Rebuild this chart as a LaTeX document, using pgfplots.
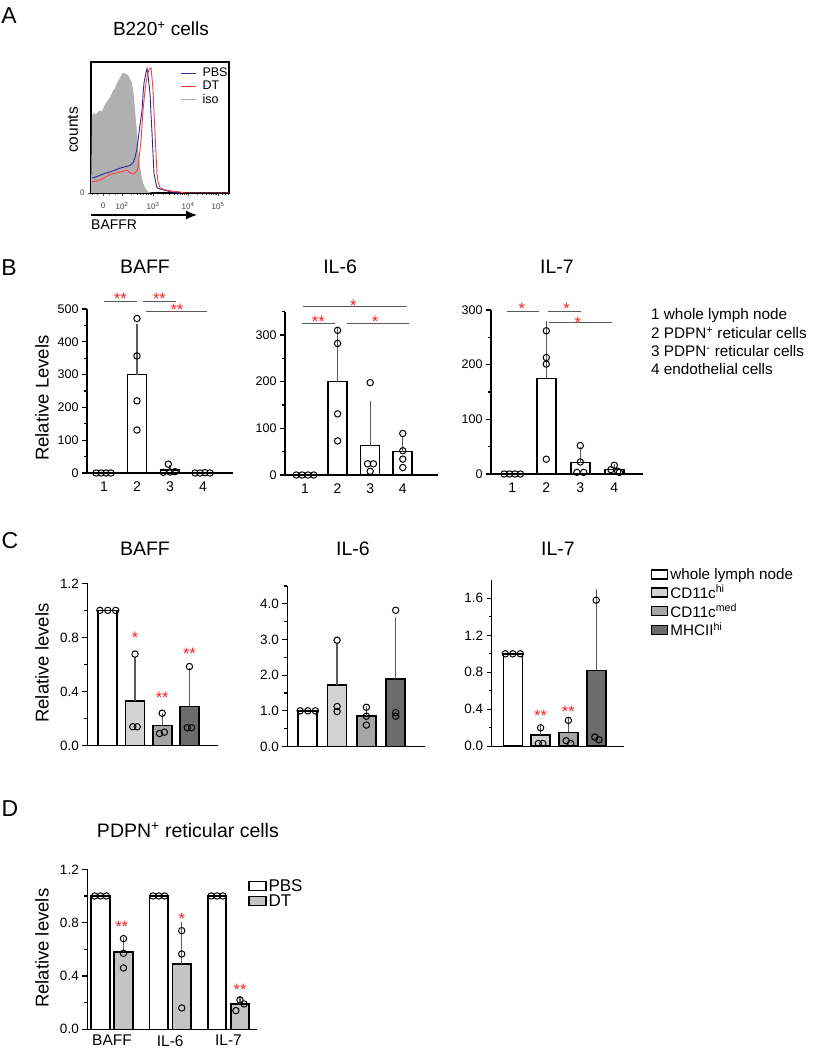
\documentclass[border=0pt]{standalone}
\usepackage{pgfplots}
\pgfplotsset{compat=1.18}
\usepackage{fontspec}
\setmainfont{Liberation Sans}
\usetikzlibrary{arrows.meta}
\newcommand{\fsz}[2]{\fontsize{#1}{#2}\selectfont}
\definecolor{cdhi}{HTML}{D2D2D2}
\definecolor{cdmed}{HTML}{A5A5A5}
\definecolor{mhc}{HTML}{6B6B6B}
\definecolor{dtgray}{HTML}{C4C4C4}
\definecolor{pbsblue}{HTML}{2B2B9E}
\definecolor{dtred}{HTML}{FF3B3B}
\definecolor{isogray}{HTML}{B0B0B0}
\definecolor{errgray}{HTML}{5A5A5A}
\definecolor{sigred}{HTML}{FF2020}
\pgfplotsset{
 barax/.style={
  scale only axis, anchor=south west, clip=false,
  axis lines*=left, axis line style={line width=1.5pt},
  ymin=0, tick align=outside,
  major tick length=5pt, minor tick length=3pt,
  tick style={line width=1.2pt, black},
  xtick style={draw=none},
  ytick pos=left, xtick pos=bottom,
  /pgf/number format/assume math mode=true,
  yticklabel style={font=\fsz{12.5}{14}},
  xticklabel style={font=\fsz{14}{16}},
  ylabel style={font=\fsz{18.5}{21}, anchor=center},
  title style={font=\fsz{19.5}{22}, anchor=center},
 },
 decax/.style={
  yticklabel style={font=\fsz{13.5}{15}, /pgf/number format/.cd, fixed, fixed zerofill, precision=1},
 },
 bne/.style={ybar, bar width=19pt, bar shift=0pt, draw=black, line width=1.6pt, fill=#1},
 be/.style={ybar, bar width=19pt, bar shift=0pt, draw=black, line width=1.6pt, fill=#1,
   error bars/y dir=plus, error bars/y explicit,
   error bars/error bar style={line width=1.2pt, errgray},
   error bars/error mark options={line width=1.2pt, errgray, mark size=3pt}},
 pts/.style={only marks, mark=o, mark size=3.2pt, mark options={line width=1pt, black}, forget plot},
}
\tikzset{star/.style={text=sigred, font=\fsz{16.5}{16}, anchor=base, yshift=-9pt, inner sep=0pt},
 sig/.style={line width=0.9pt, errgray}}
\begin{document}
\begin{tikzpicture}
\path[use as bounding box] (0,0) rectangle (812pt,1050pt);
% panel letters
\node[font=\fsz{23}{26}] at (9pt,1034pt) {A};
\node[font=\fsz{23}{26}] at (9pt,782pt) {B};
\node[font=\fsz{23}{26}] at (10pt,509pt) {C};
\node[font=\fsz{23}{26}] at (10pt,241pt) {D};

% ---------------- Panel A ----------------
\begin{axis}[scale only axis, anchor=south west, at={(91pt,857pt)}, width=138pt, height=131pt,
  xmin=91, xmax=229, ymin=0, ymax=100, axis line style={line width=1.2pt},
  xtick={103,122,153,188,218}, xticklabels={0,10\textsuperscript{2},10\textsuperscript{3},10\textsuperscript{4},10\textsuperscript{5}},
  minor xtick={92,97,109,115,131.3,136.8,140.7,143.7,146.1,148.2,150,151.6,163.5,169.7,174.1,177.5,180.2,182.6,184.6,186.4,197,202.3,206,209,211.3,213.4,215.1,216.6,222,225,228},
  ytick={0}, yticklabels={0},
  tick align=outside, major tick length=3pt, minor tick length=2pt, xtick pos=bottom, ytick pos=left,
  tick style={line width=0.6pt, black!70},
  tick label style={font=\fsz{8}{9}, text=black!75},
  xticklabel style={yshift=-3pt},
  title={B220\textsuperscript{+} cells}, title style={font=\fsz{19}{22}, at={(axis description cs:0.507,1.206)}, anchor=center},
  ylabel={counts}, ylabel style={font=\fsz{15.5}{18}, at={(axis description cs:-0.13,0.481)}, anchor=center},
  legend style={at={(axis description cs:0.645,0.97)}, anchor=north west, draw=none, fill=none, font=\fsz{12.5}{13}, inner sep=0pt, row sep=-1pt, column sep=4pt, cells={anchor=west}},
  ]
\addplot[fill=isogray, draw=none, forget plot] coordinates {(91,0)(92,58)(93,61)(96,60)(98,62)(100,63)(102,62)(104,66)(107,70)(110,73)(113,78)(115,80)(117,84)(120,88)(123,92)(125,91)(128,90)(130,87)(132,84)(134,73)(135,63)(137,46)(138,35)(140,20)(142,11)(143,8)(145,4)(148,1)(152,0)} \closedcycle;
\addplot[pbsblue, line width=0.9pt, forget plot] coordinates {(92,11.5)(95,12)(100,13.5)(105,15)(110,16)(115,17.5)(120,19)(125,20)(130,21)(133,23)(135,27)(137,34)(138,40)(140,52)(142,63)(143,75)(144,84)(145,88)(146,92)(147,95)(148,90)(149,83)(150,76)(151,60)(152,46)(153,30)(154,15)(156,7)(157,4)(160,3)(165,2)(170,1)(175,0.5)(180,0)(229,0)};
\addplot[dtred, line width=0.9pt, forget plot] coordinates {(92,8.5)(96,9)(100,10)(105,12)(110,14)(115,15)(120,16)(125,17)(127,17.5)(129,16)(131,15)(133,14.5)(135,15.5)(137,17)(138,19)(139,26)(140,33)(141,40)(142,52)(143,63)(145,78)(146,84)(147,88)(148,92)(149,94)(150,95)(151,95.5)(152,88)(153,79)(154,62)(155,46)(156,30)(157,15)(158,9)(160,4)(163,3)(167,2)(172,1.5)(178,1)(185,0)(229,0)};
\addlegendimage{legend image code/.code={\draw[pbsblue, line width=1.3pt] (0pt,0pt) -- (15pt,0pt);}}\addlegendentry{PBS}
\addlegendimage{legend image code/.code={\draw[dtred, line width=1.3pt] (0pt,0pt) -- (15pt,0pt);}}\addlegendentry{DT}
\addlegendimage{legend image code/.code={\draw[isogray, line width=1.3pt] (0pt,0pt) -- (15pt,0pt);}}\addlegendentry{iso}
\end{axis}
\draw[line width=1.2pt, -{Latex[length=11pt,width=9pt]}] (91pt,835pt) -- (197pt,835pt);
\node[anchor=west, font=\fsz{14}{16}, inner sep=0pt] at (91pt,825pt) {BAFFR};

% ---------------- Panel B ----------------
\begin{axis}[barax, at={(87pt,577pt)}, width=146pt, height=164pt,
  xmin=0.485, xmax=4.909, ymax=500,
  ytick={0,100,...,500}, minor ytick={50,150,...,450}, xtick={1,2,3,4},
  ylabel={Relative Levels}, ylabel style={at={(axis description cs:-0.308,0.457)}},
  title={BAFF}, title style={at={(axis description cs:0.397,1.22)}}]
\addplot[bne=white] coordinates {(1,1)};
\addplot[be=white] coordinates {(2,300) +- (0,146)};
\addplot[be=white] coordinates {(3,9) +- (0,6)};
\addplot[bne=white] coordinates {(4,1)};
\addplot[pts] coordinates {(0.76,0)(0.91,0)(1.06,0)(1.21,0)(2,471)(2,357)(2,220)(2,131)(2.95,27)(2.8,2)(3,3)(3.15,4)(3.76,0)(3.91,0)(4.06,1)(4.21,0)};
\draw[sig] (axis cs:1,524) -- (axis cs:2,524);
\draw[sig] (axis cs:2.18,524) -- (axis cs:3.18,524);
\draw[sig] (axis cs:2.27,494) -- (axis cs:4.12,494);
\node[star] at (axis cs:1.5,540) {**};
\node[star] at (axis cs:2.68,540) {**};
\node[star] at (axis cs:3.21,509) {**};
\end{axis}

\begin{axis}[barax, at={(285pt,575pt)}, width=153pt, height=163.3pt,
  xmin=0.387, xmax=5.08, ymax=350,
  ytick={0,100,200,300}, minor ytick={50,150,250,350}, xtick={1,2,3,4},
  title={IL-6}, title style={at={(axis description cs:0.36,1.237)}}]
\addplot[bne=white] coordinates {(1,1)};
\addplot[be=white] coordinates {(2,200) +- (0,110)};
\addplot[be=white] coordinates {(3,63) +- (0,90)};
\addplot[be=white] coordinates {(4,50) +- (0,28)};
\addplot[pts] coordinates {(0.73,0)(0.91,0)(1.09,0)(1.27,0)(2,310)(2,282)(2,131)(2,73)(3,198)(2.92,24)(3.1,24)(3,8)(4,89)(4,52)(4,34)(4,16)};
\draw[sig] (axis cs:0.94,362) -- (axis cs:4.13,362);
\draw[sig] (axis cs:0.91,325) -- (axis cs:1.92,325);
\draw[sig] (axis cs:2.29,325) -- (axis cs:4.19,325);
\node[star] at (axis cs:2.48,370) {*};
\node[star] at (axis cs:1.41,336) {**};
\node[star] at (axis cs:3.15,336) {*};
\end{axis}

\begin{axis}[barax, at={(491pt,576pt)}, width=152pt, height=164pt,
  xmin=0.374, xmax=4.844, ymax=300,
  ytick={0,100,200,300}, minor ytick={50,150,250}, xtick={1,2,3,4},
  title={IL-7}, title style={at={(axis description cs:0.434,1.226)}}]
\addplot[bne=white] coordinates {(1,1)};
\addplot[be=white] coordinates {(2,175) +- (0,100)};
\addplot[be=white] coordinates {(3,21) +- (0,22)};
\addplot[be=white] coordinates {(4,8) +- (0,4)};
\addplot[pts] coordinates {(0.76,0)(0.92,0)(1.08,0)(1.24,0)(2,262)(2,213)(2,201)(2,27)(3,52)(3,22)(2.9,3)(3.1,3)(4,16)(3.9,8)(4.1,5)(4.15,3)};
\draw[sig] (axis cs:0.84,297) -- (axis cs:1.79,297);
\draw[sig] (axis cs:2.05,297) -- (axis cs:3.02,297);
\draw[sig] (axis cs:2.08,277) -- (axis cs:3.93,277);
\node[star] at (axis cs:1.28,309) {*};
\node[star] at (axis cs:2.6,309) {*};
\node[star] at (axis cs:2.93,283) {*};
\end{axis}

\node[anchor=west, font=\fsz{15.3}{18}, inner sep=0pt] at (651pt,734pt) {1 whole lymph node};
\node[anchor=west, font=\fsz{15.3}{18}, inner sep=0pt] at (651pt,717pt) {2 PDPN\textsuperscript{+} reticular cells};
\node[anchor=west, font=\fsz{15.3}{18}, inner sep=0pt] at (651pt,699pt) {3 PDPN\textsuperscript{-} reticular cells};
\node[anchor=west, font=\fsz{15.3}{18}, inner sep=0pt] at (651pt,681pt) {4 endothelial cells};

% ---------------- Panel C ----------------
\begin{axis}[barax, decax, at={(87.3pt,304.3pt)}, width=130.7pt, height=162.4pt,
  xmin=0.247, xmax=5.05, ymax=1.2,
  ytick={0,0.4,0.8,1.2}, minor ytick={0.2,0.6,1.0}, xtick=\empty,
  ylabel={Relative levels}, ylabel style={at={(axis description cs:-0.347,0.509)}},
  title={BAFF}, title style={at={(axis description cs:0.441,1.174)}}]
\addplot[bne=white] coordinates {(1,1)};
\addplot[be=cdhi] coordinates {(2,0.33) +- (0,0.30)};
\addplot[be=cdmed] coordinates {(3,0.15) +- (0,0.07)};
\addplot[be=mhc] coordinates {(4,0.29) +- (0,0.26)};
\addplot[pts] coordinates {(0.71,1)(1,1)(1.29,1)(2,0.677)(1.92,0.14)(2.08,0.14)(3,0.24)(2.9,0.09)(3.08,0.1)(4,0.585)(3.92,0.133)(4.08,0.133)};
\node[star] at (axis cs:2,0.82) {*};
\node[star] at (axis cs:3,0.375) {**};
\node[star] at (axis cs:4,0.70) {**};
\end{axis}

\begin{axis}[barax, decax, at={(287.3pt,303.5pt)}, width=137.7pt, height=160.5pt,
  xmin=0.301, xmax=5.0, ymax=4.5,
  ytick={0,1,2,3,4}, minor ytick={0.5,1.5,2.5,3.5,4.5}, xtick=\empty,
  title={IL-6}, title style={at={(axis description cs:0.477,1.193)}}]
\addplot[bne=white] coordinates {(1,1)};
\addplot[be=cdhi] coordinates {(2,1.72) +- (0,1.08)};
\addplot[be=cdmed] coordinates {(3,0.86) +- (0,0.19)};
\addplot[be=mhc] coordinates {(4,1.9) +- (0,1.66)};
\addplot[pts] coordinates {(0.74,1)(1,1)(1.26,1)(2,2.98)(2,1.12)(2,0.98)(3,1.1)(3,0.85)(3,0.6)(4,3.82)(4,0.95)(4,0.85)};
\end{axis}

\begin{axis}[barax, decax, at={(491.7pt,303.7pt)}, width=132.3pt, height=166.5pt,
  xmin=0.241, xmax=5.0, ymax=1.8,
  ytick={0,0.4,0.8,1.2,1.6}, minor ytick={0.2,0.6,1.0,1.4}, xtick=\empty,
  title={IL-7}, title style={at={(axis description cs:0.501,1.149)}},
  legend style={at={(axis description cs:1.204,1.083)}, anchor=north west, draw=none, fill=none, font=\fsz{15.2}{18}, inner sep=0pt, row sep=0.5pt, cells={anchor=west}}]
\addplot[bne=white, forget plot] coordinates {(1,1)};
\addplot[be=cdhi, forget plot] coordinates {(2,0.12) +- (0,0.08)};
\addplot[be=cdmed, forget plot] coordinates {(3,0.15) +- (0,0.12)};
\addplot[be=mhc, forget plot] coordinates {(4,0.82) +- (0,0.85)};
\addplot[pts] coordinates {(0.73,1)(1,1)(1.27,1)(2,0.2)(1.92,0.03)(2.08,0.03)(3,0.28)(2.92,0.06)(3.08,0.03)(4,1.58)(3.95,0.1)(4.1,0.07)};
\node[star] at (axis cs:2,0.36) {**};
\node[star] at (axis cs:3,0.41) {**};
\addlegendimage{legend image code/.code={\draw[fill=white, line width=1.3pt] (0pt,-4.5pt) rectangle (16pt,4.5pt);}}\addlegendentry{whole lymph node}
\addlegendimage{legend image code/.code={\draw[fill=cdhi, line width=1.3pt] (0pt,-4.5pt) rectangle (16pt,4.5pt);}}\addlegendentry{CD11c\textsuperscript{hi}}
\addlegendimage{legend image code/.code={\draw[fill=cdmed, line width=1.3pt] (0pt,-4.5pt) rectangle (16pt,4.5pt);}}\addlegendentry{CD11c\textsuperscript{med}}
\addlegendimage{legend image code/.code={\draw[fill=mhc, line width=1.3pt] (0pt,-4.5pt) rectangle (16pt,4.5pt);}}\addlegendentry{MHCII\textsuperscript{hi}}
\end{axis}

% ---------------- Panel D ----------------
\begin{axis}[barax, decax, at={(87.3pt,20.7pt)}, width=169.4pt, height=160pt,
  xmin=0.576, xmax=3.484, ymax=1.2,
  ytick={0,0.4,0.8,1.2}, minor ytick={0.2,0.6,1.0},
  xtick={1,2,3}, xticklabels={BAFF,IL-6,IL-7}, xticklabel style={font=\fsz{15.5}{17}, yshift=2.5pt},
  ylabel={Relative levels}, ylabel style={at={(axis description cs:-0.267,0.506)}},
  title={PDPN\textsuperscript{+} reticular cells}, title style={at={(axis description cs:0.594,1.208)}},
  legend style={at={(axis description cs:0.949,0.952)}, anchor=north west, draw=none, fill=none, font=\fsz{17}{19}, inner sep=0pt, row sep=-2pt, cells={anchor=west}}]
\addplot[bne=white, bar width=18.5pt, forget plot] coordinates {(0.803,1)(1.803,1)(2.803,1)};
\addplot[be=dtgray, bar width=18.5pt, forget plot] coordinates {(1.197,0.58) +- (0,0.09) (2.197,0.49) +- (0,0.29) (3.197,0.19) +- (0,0.04)};
\addplot[pts] coordinates {(0.703,1)(0.803,1)(0.903,1)(1.703,1)(1.803,1)(1.903,1)(2.703,1)(2.803,1)(2.903,1)(1.197,0.68)(1.197,0.57)(1.197,0.46)(2.197,0.74)(2.197,0.565)(2.197,0.16)(3.197,0.22)(3.267,0.19)(3.127,0.14)};
\node[star] at (axis cs:1.167,0.79) {**};
\node[star] at (axis cs:2.2,0.85) {*};
\node[star] at (axis cs:3.2,0.32) {**};
\addlegendimage{legend image code/.code={\draw[fill=white, line width=1.3pt] (0pt,-4.5pt) rectangle (17pt,4.5pt);}}\addlegendentry{PBS}
\addlegendimage{legend image code/.code={\draw[fill=dtgray, line width=1.3pt] (0pt,-4.5pt) rectangle (17pt,4.5pt);}}\addlegendentry{DT}
\end{axis}
\end{tikzpicture}
\end{document}
